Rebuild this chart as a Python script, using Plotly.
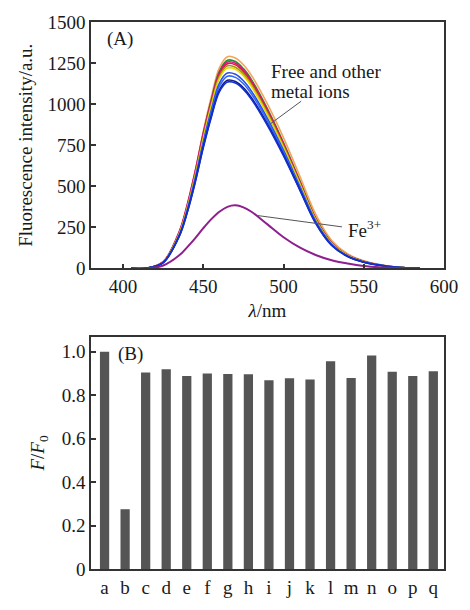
import plotly.graph_objects as go
from plotly.subplots import make_subplots

# ---------------- Panel A data ----------------
wavelength = [405, 415, 425, 435, 440, 445, 450, 455, 460, 465, 470, 475, 480,
              490, 500, 510, 520, 530, 540, 550, 560, 570, 585]

free_orange = [0, 2, 40, 222, 386, 596, 835, 1045, 1221, 1289, 1281, 1240, 1175, 1000, 795, 565, 330, 170, 88, 47, 24, 9, 0]
free_green = [0, 2, 39, 218, 380, 586, 820, 1027, 1200, 1267, 1259, 1216, 1149, 971, 764, 536, 307, 156, 80, 42, 21, 8, 0]
free_magenta = [0, 2, 41, 225, 390, 595, 825, 1022, 1190, 1256, 1249, 1207, 1140, 963, 758, 531, 304, 155, 80, 42, 21, 8, 0]
free_red = [0, 2, 38, 214, 373, 576, 807, 1010, 1180, 1246, 1239, 1197, 1131, 955, 752, 527, 302, 154, 79, 42, 21, 8, 0]
free_olive = [0, 2, 38, 212, 369, 570, 798, 999, 1167, 1233, 1225, 1184, 1119, 945, 744, 521, 299, 152, 78, 41, 21, 8, 0]
free_yellow = [0, 2, 38, 210, 366, 564, 790, 989, 1156, 1220, 1213, 1172, 1107, 935, 736, 516, 296, 151, 77, 41, 20, 8, 0]
free_blue1 = [0, 2, 37, 204, 356, 550, 770, 964, 1127, 1189, 1182, 1142, 1079, 912, 718, 503, 288, 147, 75, 40, 20, 7, 0]
free_blue2 = [0, 2, 36, 201, 351, 541, 758, 949, 1108, 1170, 1163, 1124, 1062, 897, 706, 495, 284, 144, 74, 39, 20, 7, 0]
free_navy = [0, 2, 35, 197, 343, 530, 742, 928, 1085, 1145, 1138, 1100, 1039, 878, 691, 484, 277, 141, 73, 38, 19, 7, 0]
free_blue3 = [0, 2, 35, 195, 340, 525, 735, 920, 1075, 1135, 1128, 1090, 1030, 870, 685, 480, 275, 140, 72, 38, 19, 7, 0]
fe3 = [0, 0, 18, 80, 130, 185, 245, 300, 345, 375, 384, 372, 345, 268, 190, 128, 82, 50, 30, 15, 7, 3, 0]

spectra = [
    ("orange", "#f5a55a", free_orange),
    ("green", "#1f8f2f", free_green),
    ("magenta", "#e0108a", free_magenta),
    ("red", "#d8203a", free_red),
    ("olive", "#9a9a10", free_olive),
    ("yellow", "#e8d800", free_yellow),
    ("blue1", "#2a50e0", free_blue1),
    ("blue2", "#3366ff", free_blue2),
    ("navy", "#101a8a", free_navy),
    ("blue3", "#1030d0", free_blue3),
]

# ---------------- Panel B data ----------------
bar_labels = list("abcdefghijklmnopq")
bar_values = [1.0, 0.275, 0.904, 0.919, 0.888, 0.899, 0.897, 0.896, 0.868,
              0.877, 0.872, 0.956, 0.879, 0.982, 0.907, 0.888, 0.910]

yA_ticks = [0, 250, 500, 750, 1000, 1250, 1500]
xA_ticks = [400, 450, 500, 550, 600]
yB_ticks = [0, 0.2, 0.4, 0.6, 0.8, 1.0]
yB_text = ["0", "0.2", "0.4", "0.6", "0.8", "1.0"]

FONT = "Liberation Serif, Times New Roman, serif"
TXT = "#1a1a1a"
AX = "#333333"
FS = 19

fig = make_subplots(rows=2, cols=1)

for name, color, vals in spectra:
    fig.add_trace(go.Scatter(x=wavelength, y=vals, mode="lines",
                             line=dict(color=color, width=1.6, shape="spline", smoothing=1.0),
                             showlegend=False, name=name), row=1, col=1)
fig.add_trace(go.Scatter(x=wavelength, y=fe3, mode="lines",
                         line=dict(color="#8e1f8e", width=2, shape="spline", smoothing=1.0),
                         showlegend=False, name="Fe3+"), row=1, col=1)

fig.add_trace(go.Bar(x=bar_labels, y=bar_values, marker=dict(color="#555555", line=dict(width=0)),
                     showlegend=False), row=2, col=1)

axis_common = dict(showline=True, linecolor=AX, linewidth=1.5, mirror=True,
                   ticks="inside", tickcolor=AX, tickwidth=1.5, ticklen=5,
                   showgrid=False, zeroline=False,
                   tickfont=dict(family=FONT, size=FS, color=TXT))

fig.update_layout(
    width=470, height=610,
    margin=dict(l=91, r=17, t=18, b=26),
    paper_bgcolor="white", plot_bgcolor="white",
    bargap=0.55,
    xaxis=dict(domain=[0, 1], range=[380, 600], tickvals=xA_ticks,
               title=dict(text="<i>λ</i>/nm", font=dict(family=FONT, size=FS, color=TXT), standoff=8),
               **axis_common),
    yaxis=dict(domain=[0.5495, 1], range=[0, 1500], tickvals=yA_ticks,
               title=dict(text="Fluorescence intensity/a.u.", font=dict(family=FONT, size=FS, color=TXT), standoff=10),
               **axis_common),
    xaxis2=dict(domain=[0, 1], range=[-0.66, 16.52], ticks="", showline=True, linecolor=AX,
                linewidth=1.5, mirror=True, showgrid=False, zeroline=False,
                tickmode="array", tickvals=bar_labels, ticktext=bar_labels,
                tickfont=dict(family=FONT, size=FS, color=TXT)),
    yaxis2=dict(domain=[0, 0.424], range=[0, 1.067], tickvals=yB_ticks, ticktext=yB_text,
                title=dict(text="<i>F</i>/<i>F</i><sub>0</sub>", font=dict(family=FONT, size=FS, color=TXT), standoff=12),
                **axis_common),
)

# panel labels
fig.add_annotation(x=0.04, y=0.985, xref="x domain", yref="y domain", text="(A)", showarrow=False,
                   xanchor="left", yanchor="top", font=dict(family=FONT, size=FS, color=TXT))
fig.add_annotation(x=0.07, y=0.985, xref="x2 domain", yref="y2 domain", text="(B)", showarrow=False,
                   xanchor="left", yanchor="top", font=dict(family=FONT, size=FS, color=TXT))

# callouts
fig.add_annotation(x=491, y=1196, xref="x", yref="y", text="Free and other",
                   showarrow=False, xanchor="left", yanchor="middle", align="left",
                   font=dict(family=FONT, size=FS, color=TXT))
fig.add_annotation(x=491, y=1080, xref="x", yref="y", text="metal ions",
                   showarrow=False, xanchor="left", yanchor="middle", align="left",
                   font=dict(family=FONT, size=FS, color=TXT))
fig.add_shape(type="line", x0=491.8, y0=880, x1=511, y1=1018, xref="x", yref="y",
              line=dict(color="#555555", width=1))
fig.add_annotation(x=539, y=240, xref="x", yref="y", text="Fe<sup>3+</sup>",
                   showarrow=False, xanchor="left", yanchor="middle",
                   font=dict(family=FONT, size=FS, color=TXT))
fig.add_shape(type="line", x0=483.7, y0=322, x1=536.4, y1=253, xref="x", yref="y",
              line=dict(color="#555555", width=1))

fig.write_html("out.html")
